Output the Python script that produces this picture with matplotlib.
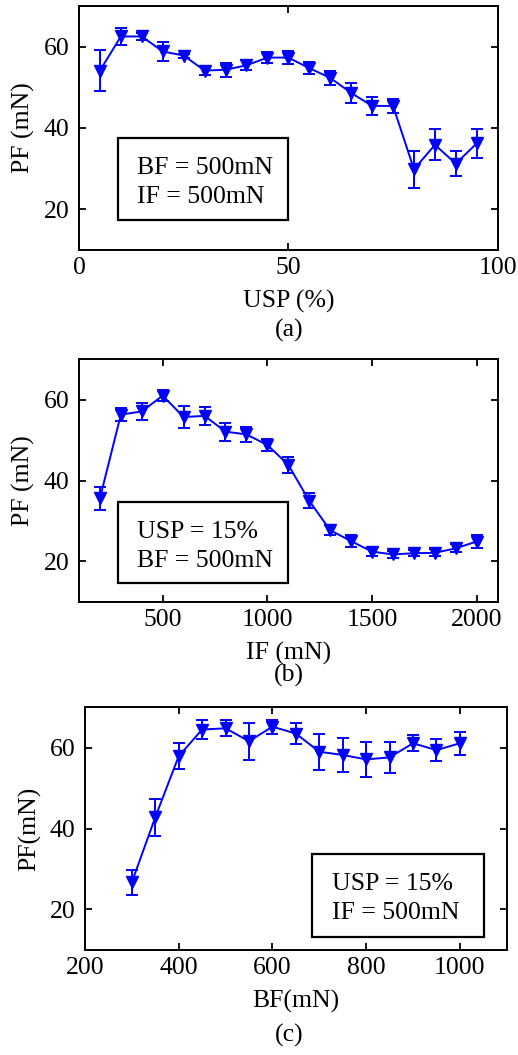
import matplotlib
matplotlib.use("Agg")
import matplotlib.pyplot as plt
from matplotlib.patches import Rectangle

plt.rcParams['font.family'] = ['Liberation Serif', 'DejaVu Serif']
plt.rcParams['font.size'] = 18.5

# (a) PF vs USP, BF = IF = 500mN
usp = [5, 10, 15, 20, 25, 30, 35, 40, 45, 50, 55, 60, 65, 70, 75, 80, 85, 90, 95]
pf_a = [54.1, 62.5, 62.5, 58.8, 57.8, 54.1, 54.3, 55.4, 57.3, 57.3, 54.7, 52.3, 48.6, 45.4, 45.4, 29.8, 35.8, 31.2, 36.2]
err_a = [5.0, 2.1, 0.9, 2.3, 0.5, 1.2, 1.7, 1.2, 1.4, 1.6, 1.4, 1.7, 2.5, 2.2, 1.7, 4.5, 3.8, 3.0, 3.5]

# (b) PF vs IF, USP = 15%, BF = 500mN
inf = [200, 300, 400, 500, 600, 700, 800, 900, 1000, 1100, 1200, 1300, 1400, 1500, 1600, 1700, 1800, 1900, 2000]
pf_b = [35.6, 56.3, 57.1, 61.0, 55.7, 56.0, 52.1, 51.4, 48.8, 43.9, 35.0, 27.7, 25.0, 22.4, 21.7, 22.0, 22.1, 23.2, 24.9]
err_b = [2.9, 1.6, 2.1, 1.3, 2.7, 2.3, 2.2, 1.8, 1.4, 2.0, 1.9, 1.2, 1.4, 1.0, 0.8, 0.7, 0.9, 1.0, 1.5]

# (c) PF vs BF, USP = 15%, IF = 500mN
bf = [300, 350, 400, 450, 500, 550, 600, 650, 700, 750, 800, 850, 900, 950, 1000]
pf_c = [26.7, 42.8, 57.9, 64.5, 64.8, 61.6, 65.2, 63.5, 59.0, 58.2, 57.1, 57.6, 61.1, 59.4, 61.1]
err_c = [3.1, 4.6, 3.2, 2.4, 2.0, 4.6, 1.7, 2.6, 4.5, 4.1, 4.3, 3.8, 2.0, 2.8, 2.9]

W, H = 518, 1055
fig = plt.figure(figsize=(W / 100, H / 100), dpi=100)


def make_ax(l, r, t, b):
    return fig.add_axes([l / W, 1 - b / H, (r - l) / W, (b - t) / H])


def panel(ax, x, y, e, xlim, xticks, xlabel, ylabel, lines, box, tx, ty):
    ax.errorbar(x, y, yerr=e, color='#0000ff', marker='v', markersize=8,
                lw=1.4, elinewidth=1.4, capsize=4.5, capthick=1.4)
    ax.set_xlim(*xlim)
    ax.set_ylim(10, 70)
    ax.set_xticks(xticks)
    ax.set_yticks([20, 40, 60])
    ax.tick_params(direction='in', top=True, right=True, length=5, width=1.3, pad=5)
    ax.tick_params(axis='y', pad=7)
    for s in ax.spines.values():
        s.set_linewidth(1.4)
    ax.set_xlabel(xlabel, labelpad=8)
    ax.set_ylabel(ylabel, labelpad=6)
    x0, y0, x1, y1 = box
    ax.add_patch(Rectangle((x0, y0), x1 - x0, y1 - y0, transform=ax.transAxes,
                           fill=False, edgecolor='black', lw=1.6, clip_on=False))
    for txt, yy in zip(lines, ty):
        ax.text(tx, yy, txt, transform=ax.transAxes, ha='left', va='center')


ax1 = make_ax(79, 497.7, 6, 249.7)
panel(ax1, usp, pf_a, err_a, (0, 100), [0, 50, 100], 'USP (%)', 'PF (mN)',
      ['BF = 500mN', 'IF = 500mN'], (0.093, 0.122, 0.499, 0.458), 0.138, [0.334, 0.217])
fig.text(289 / W, 1 - 330 / H, '(a)', ha='center', va='center')

ax2 = make_ax(79, 497.5, 359.3, 601.7)
panel(ax2, inf, pf_b, err_b, (100, 2100), [500, 1000, 1500, 2000], 'IF (mN)', 'PF (mN)',
      ['USP = 15%', 'BF = 500mN'], (0.093, 0.078, 0.499, 0.413), 0.139, [0.286, 0.168])
fig.text(289 / W, 1 - 675 / H, '(b)', ha='center', va='center')

ax3 = make_ax(85, 506.7, 707.3, 949.7)
panel(ax3, bf, pf_c, err_c, (200, 1100), [200, 400, 600, 800, 1000], 'BF(mN)', 'PF(mN)',
      ['USP = 15%', 'IF = 500mN'], (0.538, 0.054, 0.945, 0.395), 0.585, [0.270, 0.150])
fig.text(289 / W, 1 - 1035 / H, '(c)', ha='center', va='center')

fig.savefig('out.png', dpi=100)
